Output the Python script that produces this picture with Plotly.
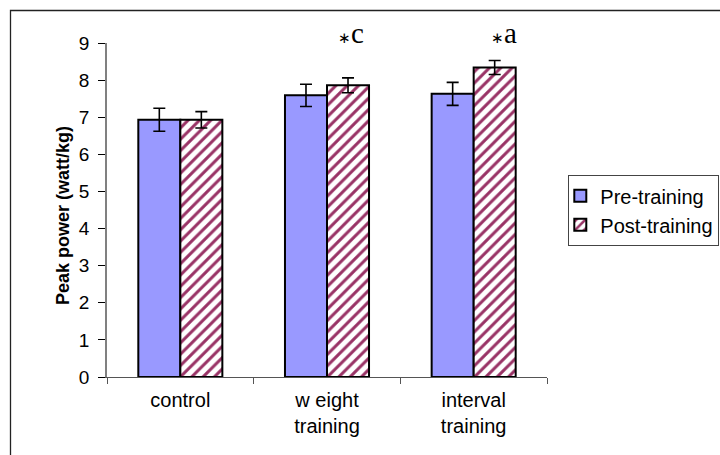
import plotly.graph_objects as go

# Peak power before and after training, by group
categories = ["control", "w eight<br>training", "interval<br>training"]
pre_values = [6.93, 7.59, 7.63]
pre_errors = [0.31, 0.30, 0.31]
post_values = [6.93, 7.86, 8.34]
post_errors = [0.22, 0.20, 0.19]
sig_labels = ["", "c", "a"]
y_ticks = list(range(0, 10))

W, H = 720, 455
L, R, T, B = 107, 173, 43, 78
pw, ph = W - L - R, H - T - B


def px_to_paper_x(px):
    return (px - L) / pw


def px_to_paper_y(py):
    return (H - B - py) / ph


fig = go.Figure()

fig.add_trace(go.Bar(
    name="Pre-training",
    x=categories,
    y=pre_values,
    legendgroup="pre",
    marker=dict(color="#9999FF", line=dict(color="black", width=2)),
    error_y=dict(type="data", array=pre_errors, visible=True,
                 color="black", thickness=1.6, width=6),
))

fig.add_trace(go.Bar(
    name="Post-training",
    x=categories,
    y=post_values,
    legendgroup="post",
    marker=dict(
        color="#993366",
        line=dict(color="black", width=2),
        pattern=dict(shape="/", fgcolor="#993366", bgcolor="white",
                     fillmode="replace", size=8, solidity=0.38),
    ),
    error_y=dict(type="data", array=post_errors, visible=True,
                 color="black", thickness=1.6, width=6),
))

# significance markers above the post-training bars
for cat, lab in zip(categories, sig_labels):
    if not lab:
        continue
    fig.add_annotation(
        x=cat, xref="x", y=px_to_paper_y(33), yref="paper",
        xshift=24 if lab == "c" else 30,
        text="<span style='font-size:15px'>∗</span>" + lab,
        showarrow=False, yanchor="middle",
        font=dict(family="Liberation Serif, Times New Roman, serif",
                  size=29, color="black"),
    )

# y-axis title
fig.add_annotation(
    x=px_to_paper_x(51), xref="paper", y=px_to_paper_y(216), yref="paper",
    text="<b>Peak power (watt/kg)</b>", textangle=-90, showarrow=False,
    font=dict(family="Liberation Sans, Arial, sans-serif", size=18, color="black"),
)

# chart frame
fig.add_shape(
    type="rect", xref="paper", yref="paper",
    x0=px_to_paper_x(10.5), x1=px_to_paper_x(730),
    y0=px_to_paper_y(470), y1=px_to_paper_y(10.5),
    line=dict(color="#222222", width=1.3), fillcolor="rgba(0,0,0,0)",
    layer="below",
)

fig.update_layout(
    width=W, height=H,
    margin=dict(l=L, r=R, t=T, b=B, autoexpand=False),
    paper_bgcolor="white", plot_bgcolor="white",
    barmode="group", bargap=0.427, bargroupgap=0,
    font=dict(family="Liberation Sans, Arial, sans-serif", size=20, color="black"),
    showlegend=True,
    legend=dict(
        x=px_to_paper_x(568), xanchor="left",
        y=px_to_paper_y(175), yanchor="top",
        bordercolor="#444444", borderwidth=1.3, bgcolor="white",
        font=dict(size=20), tracegroupgap=0, indentation=-9,
    ),
    xaxis=dict(
        showline=True, linecolor="#555555", linewidth=1.3,
        ticks="outside", ticklen=6, tickcolor="#555555", tickwidth=1.3,
        tickson="boundaries", showgrid=False, zeroline=False,
        ticklabelstandoff=5,
    ),
    yaxis=dict(
        range=[0, 9], tickvals=y_ticks, tickfont=dict(size=19),
        showline=True, linecolor="#808080", linewidth=1.5,
        ticks="outside", ticklen=7, tickcolor="black", tickwidth=1.3,
        showgrid=False, zeroline=False, ticklabelstandoff=5,
    ),
)

fig.write_html("out.html")
